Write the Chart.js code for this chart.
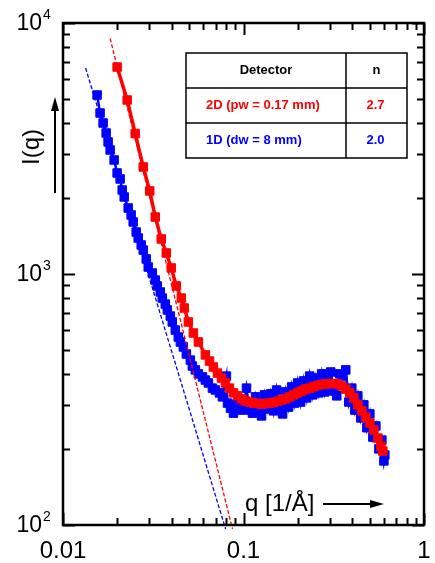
<!DOCTYPE html>
<html>
<head>
<meta charset="utf-8">
<script src="https://cdn.jsdelivr.net/npm/chart.js@4/dist/chart.umd.min.js"></script>
<style>
html,body{margin:0;padding:0;background:#fff;}
canvas{display:block;}
</style>
</head>
<body>
<canvas id="c" width="435" height="563"></canvas>
<script>
// ---- data ----
const redQ = [0.01995,0.02268,0.02512,0.02783,0.03024,0.03245,0.03503,0.03734,0.03981,0.04244,0.04524,0.04702,0.04948,0.05275,0.05623,0.0615,0.0648,0.0681,0.0717,0.0755,0.0794,0.0836,0.0880,0.0926,0.0975,0.1026,0.1080,0.1136,0.1196,0.1259,0.1325,0.1395,0.1468,0.1545,0.1626,0.1711,0.1801,0.1896,0.1995,0.2100,0.2210,0.2326,0.2448,0.2577,0.2713,0.2855,0.3005,0.3162,0.3329,0.3504,0.3687,0.3881,0.4084,0.4299,0.4524,0.4762,0.5012,0.5275,0.5552,0.5771,0.5918];
const redI = [6678,4935,3628,2669,2142,1687,1379,1213,1057,896,802,732,644,582,536,476,450,426,403,385,368,351,336,327,318,312,309,306,305,303,305,306,308,311,315,318,324,330,336,342,348,351,356,360,363,365,366,366,365,358,348,336,321,301,285,269,255,239,222,206,197];

const blueQ = [0.01545,0.01605,0.01668,0.01734,0.01778,0.01825,0.01920,0.01995,0.02073,0.02128,0.02183,0.02297,0.02386,0.02448,0.02544,0.02610,0.02712,0.02783,0.02891,0.02966,0.03122,0.03245,0.03329,0.03459,0.03548,0.03687,0.03784,0.03931,0.04032,0.04190,0.04353,0.04467,0.04642,0.04824,0.05075,0.05208,0.05412,0.05623,0.05921,0.06150,0.06391,0.06726,0.06990,0.07356,0.07643,0.0804,0.0815,0.0847,0.0880,0.0914,0.0962,
0.1000,0.1039,0.1080,0.1122,0.1166,0.1212,0.1259,0.1308,0.1359,0.1413,0.1468,0.1526,0.1585,0.1647,0.1711,0.1778,0.1848,0.1920,0.1995,0.2073,0.2154,0.2239,0.2326,0.2417,0.2512,0.2610,0.2713,0.2818,0.2929,0.3043,0.3162,0.3286,0.3415,0.3548,0.3687,0.3831,0.3981,0.4137,0.4299,0.4467,0.4642,0.4824,0.5012,0.5208,0.5412,0.5623,0.5843,0.5995,0.6067];
const blueI = [5166,4379,3996,3645,3357,3119,2846,2526,2391,2161,2027,1832,1719,1612,1470,1391,1305,1246,1148,1066,1009,946,896,848,802,759,719,680,644,598,561,536,512,480,454,430,415,400,389,378,368,351,345,336,324,392,306,292,279,303,287,
290,351,287,279,324,282,272,330,290,333,285,345,292,277,339,295,355,306,368,309,375,321,392,330,385,336,400,339,389,407,342,327,400,392,415,309,351,287,327,267,301,244,277,224,248,201,218,180,190];

// power-law guide lines (end points)
const redFitQ = [0.01825, 0.0869];
const redFitI = [8676, 96.4];
const blueFitQ = [0.01334, 0.0796];
const blueFitI = [6618, 96.4];

// axis labels / ticks
const xRange = [0.01, 1];
const yRange = [100, 10000];
const xTickValues = [0.01, 0.1, 1];
const xTickLabels = ['0.01', '0.1', '1'];
const yTickValues = [100, 1000, 10000];
const yTickBase = '10';
const yTickExp = ['2', '3', '4'];
const xTitle = 'q [1/Å]';
const yTitle = 'I(q)';

// legend table
const tableHeader = ['Detector', 'n'];
const tableRows = [['2D (pw = 0.17 mm)', '2.7'], ['1D (dw = 8 mm)', '2.0']];
const RED = '#ff0000', BLUE = '#0000ff';
const tableColors = [RED, BLUE];

const toXY = (qs, is) => qs.map((q, i) => ({x: q, y: is[i]}));

const FONT = '"Liberation Sans", Arial, Helvetica, sans-serif';

function arrowHead(ctx, tipX, tipY, dirX, dirY, len, half) {
  const px = -dirY, py = dirX;
  const bx = tipX - dirX * len, by = tipY - dirY * len;
  ctx.beginPath();
  ctx.moveTo(tipX, tipY);
  ctx.lineTo(bx + px * half, by + py * half);
  ctx.lineTo(bx - px * half, by - py * half);
  ctx.closePath();
  ctx.fill();
}

const decor = {
  id: 'decor',
  afterDraw(chart) {
    const {ctx, chartArea: a, scales: {x, y}} = chart;
    ctx.save();
    ctx.strokeStyle = '#000';
    ctx.fillStyle = '#000';
    // ticks (inward, all four sides)
    ctx.lineWidth = 2;
    ctx.beginPath();
    for (let d = 0.01; d < 0.999; d *= 10) {
      for (let m = 1; m <= 10; m++) {
        const v = d * m;
        const px = Math.round(x.getPixelForValue(v)) + 0.5;
        const len = (m === 1 || m === 10) ? 12 : 7;
        ctx.moveTo(px, a.bottom); ctx.lineTo(px, a.bottom - len);
        ctx.moveTo(px, a.top); ctx.lineTo(px, a.top + len);
      }
    }
    for (let d = 100; d < 9999; d *= 10) {
      for (let m = 1; m <= 10; m++) {
        const v = d * m;
        const py = Math.round(y.getPixelForValue(v)) + 0.5;
        const len = (m === 1 || m === 10) ? 12 : 7;
        ctx.moveTo(a.left, py); ctx.lineTo(a.left + len, py);
        ctx.moveTo(a.right, py); ctx.lineTo(a.right - len, py);
      }
    }
    ctx.stroke();
    // frame
    ctx.lineWidth = 2.5;
    ctx.strokeRect(a.left, a.top, a.right - a.left, a.bottom - a.top);

    // x tick labels
    ctx.font = '24px ' + FONT;
    ctx.textAlign = 'center';
    ctx.textBaseline = 'alphabetic';
    xTickValues.forEach((v, i) => {
      ctx.fillText(xTickLabels[i], x.getPixelForValue(v), 558);
    });
    // y tick labels with superscript
    yTickValues.forEach((v, i) => {
      const py = y.getPixelForValue(v);
      ctx.font = '23px ' + FONT;
      ctx.textAlign = 'right';
      ctx.textBaseline = 'middle';
      ctx.fillText(yTickBase, 42, py + 1);
      ctx.font = '14px ' + FONT;
      ctx.textAlign = 'left';
      ctx.fillText(yTickExp[i], 43, py - 8);
    });

    // y title rotated + arrow
    ctx.save();
    ctx.translate(32, 147);
    ctx.rotate(-Math.PI / 2);
    ctx.font = '24px ' + FONT;
    ctx.textAlign = 'center';
    ctx.textBaseline = 'middle';
    ctx.fillText(yTitle, 0, 0);
    ctx.restore();
    ctx.lineWidth = 2;
    ctx.beginPath();
    ctx.moveTo(55, 193); ctx.lineTo(55, 108);
    ctx.stroke();
    arrowHead(ctx, 55, 97, 0, -1, 14, 4);

    // x title inside plot + arrow
    ctx.font = '24px ' + FONT;
    ctx.textAlign = 'left';
    ctx.textBaseline = 'alphabetic';
    ctx.fillText(xTitle, 245, 511);
    ctx.beginPath();
    ctx.moveTo(323, 504); ctx.lineTo(372, 504);
    ctx.stroke();
    arrowHead(ctx, 384, 504, 1, 0, 14, 4);

    // legend table
    const tx0 = 186, tx1 = 346, tx2 = 407;
    const ty = [53, 88, 123, 158];
    ctx.fillStyle = '#fff';
    ctx.fillRect(tx0, ty[0], tx2 - tx0, ty[3] - ty[0]);
    ctx.strokeStyle = '#000';
    ctx.lineWidth = 1.5;
    ctx.strokeRect(tx0, ty[0], tx2 - tx0, ty[3] - ty[0]);
    ctx.beginPath();
    ctx.moveTo(tx1, ty[0]); ctx.lineTo(tx1, ty[3]);
    ctx.moveTo(tx0, ty[1]); ctx.lineTo(tx2, ty[1]);
    ctx.moveTo(tx0, ty[2]); ctx.lineTo(tx2, ty[2]);
    ctx.stroke();
    ctx.font = 'bold 13px ' + FONT;
    ctx.textBaseline = 'middle';
    ctx.fillStyle = '#000';
    ctx.textAlign = 'center';
    ctx.fillText(tableHeader[0], (tx0 + tx1) / 2, (ty[0] + ty[1]) / 2);
    ctx.fillText(tableHeader[1], (tx1 + tx2) / 2, (ty[0] + ty[1]) / 2);
    tableRows.forEach((r, i) => {
      ctx.fillStyle = tableColors[i];
      ctx.textAlign = 'left';
      ctx.fillText(r[0], 206, (ty[i + 1] + ty[i + 2]) / 2);
      ctx.textAlign = 'center';
      ctx.fillText(r[1], (tx1 + tx2) / 2 - 1, (ty[i + 1] + ty[i + 2]) / 2);
    });
    ctx.restore();
  }
};

new Chart(document.getElementById('c'), {
  type: 'scatter',
  data: {
    datasets: [
      {label: 'red fit', data: toXY(redFitQ, redFitI), showLine: true, borderColor: RED, borderWidth: 1.3, borderDash: [4, 2], pointRadius: 0, order: 0, clip: {left: 0, top: 0, right: 0, bottom: 5}},
      {label: 'blue fit', data: toXY(blueFitQ, blueFitI), showLine: true, borderColor: BLUE, borderWidth: 1.3, borderDash: [4, 2], pointRadius: 0, order: 0, clip: {left: 0, top: 0, right: 0, bottom: 5}},
      {label: tableRows[0][0], data: toXY(redQ, redI), showLine: true, borderColor: RED, backgroundColor: RED, borderWidth: 3.5, pointStyle: 'rect', pointRadius: 6, pointBorderWidth: 1, pointBorderColor: RED, pointBackgroundColor: RED, order: 1},
      {label: tableRows[1][0], data: toXY(blueQ, blueI), showLine: true, borderColor: BLUE, backgroundColor: BLUE, borderWidth: 2.5, pointStyle: 'rect', pointRadius: 6, pointBorderWidth: 1, pointBorderColor: BLUE, pointBackgroundColor: BLUE, order: 2}
    ]
  },
  options: {
    responsive: false,
    devicePixelRatio: 1,
    animation: false,
    layout: {padding: {left: 63, top: 23, right: 11, bottom: 38}},
    plugins: {legend: {display: false}, tooltip: {enabled: false}},
    scales: {
      x: {type: 'logarithmic', min: xRange[0], max: xRange[1], display: false},
      y: {type: 'logarithmic', min: yRange[0], max: yRange[1], display: false}
    }
  },
  plugins: [decor]
});
</script>
</body>
</html>
